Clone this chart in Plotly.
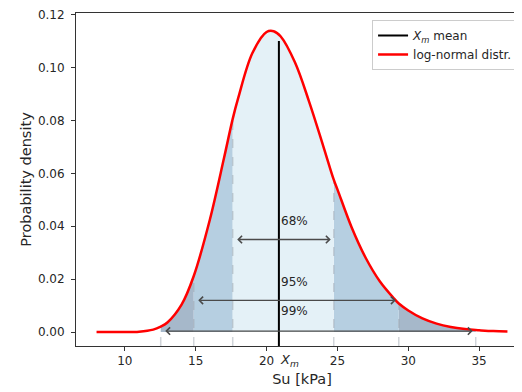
import plotly.graph_objects as go

# Curve (Su in kPa, probability density)
su = [8, 9, 10, 11, 12, 12.53, 13, 14, 14.86, 16, 17, 17.61, 18, 19, 20, 20.5, 21,
      22, 23, 24, 24.74, 25, 26, 27, 28, 29, 29.33, 30, 31, 32, 33, 34, 34.76, 35, 36, 37]
density = [0.0, 0.0000012, 0.0000193, 0.00017, 0.00095, 0.00208, 0.00364, 0.01038, 0.0212,
           0.04256, 0.06587, 0.0806, 0.0885, 0.10546, 0.11343, 0.11372, 0.11171,
           0.10197, 0.08714, 0.07032, 0.0576, 0.05396, 0.03964, 0.02801, 0.01913, 0.01268,
           0.0108, 0.00819, 0.00516, 0.00319, 0.00193, 0.00115, 0.00076, 0.00068, 0.00039, 0.00023]

# Mean marker
x_mean = 20.87
mean_top = 0.11

# Confidence bands (lower, upper), labels, arrow heights, label heights
band_lo = [12.53, 14.86, 17.61]
band_hi = [34.76, 29.33, 24.74]
band_labels = ["99%", "95%", "68%"]
arrow_y = [0.0004, 0.012, 0.035]
label_y = [0.008, 0.019, 0.042]

x_range = [6.55, 38.45]
y_range = [-0.00525, 0.1206]

col_outer = "#a6b8ca"
col_mid = "#b6cfe1"
col_inner = "#e4f1f7"

fig = go.Figure()

def seg(lo, hi):
    xs = [x for x in su if lo <= x <= hi]
    ys = [d for x, d in zip(su, density) if lo <= x <= hi]
    return xs, ys

# fills: outer (99 but not 95), mid (95 but not 68), inner (68)
segments = [
    (band_lo[0], band_lo[1], col_outer),
    (band_hi[1], band_hi[0], col_outer),
    (band_lo[1], band_lo[2], col_mid),
    (band_hi[2], band_hi[1], col_mid),
    (band_lo[2], band_hi[2], col_inner),
]
for lo, hi, c in segments:
    xs, ys = seg(lo, hi)
    fig.add_trace(go.Scatter(x=xs, y=ys, mode="lines", line=dict(width=0, shape="spline", color=c),
                             fill="tozeroy", fillcolor=c, showlegend=False, hoverinfo="skip"))

# dashed boundaries
for b in band_lo + band_hi:
    d = density[su.index(b)]
    fig.add_trace(go.Scatter(x=[b, b], y=[y_range[0], d], mode="lines",
                             line=dict(color="rgba(150,160,170,0.45)", width=1.5, dash="dash"),
                             showlegend=False, hoverinfo="skip"))

# mean line
fig.add_trace(go.Scatter(x=[x_mean, x_mean], y=[y_range[0], mean_top], mode="lines",
                         line=dict(color="black", width=2),
                         name="<i>X</i><sub><i>m</i></sub> mean"))
# curve
fig.add_trace(go.Scatter(x=su, y=density, mode="lines",
                         line=dict(color="#ff0000", width=2.5, shape="spline"),
                         name="log-normal distr."))

for lo, hi, lab, ay, ly in zip(band_lo, band_hi, band_labels, arrow_y, label_y):
    fig.add_annotation(x=hi, y=ay, ax=lo, ay=ay, xref="x", yref="y", axref="x", ayref="y",
                       text="", showarrow=True, arrowhead=4, arrowside="end+start",
                       arrowsize=1.1, arrowwidth=1.3, arrowcolor="#4a4a4a",
                       standoff=3, startstandoff=3)
    fig.add_annotation(x=x_mean, y=ly, xref="x", yref="y", text=lab, showarrow=False,
                       xanchor="left", yanchor="middle",
                       font=dict(size=12, color="#262626"))

fig.add_annotation(x=21.6, y=-0.0446, xref="x", yref="paper",
                   text="<i>X</i><sub><i>m</i></sub>", showarrow=False,
                   xanchor="center", yanchor="middle", font=dict(size=13, color="#262626"))

# page body has an 8px margin, so the figure is sized/offset to compensate;
# the right edge of the axes runs slightly past the window, as in the reference
fig.update_layout(
    width=520, height=384,
    margin=dict(l=68, r=0, t=2, b=46),
    paper_bgcolor="white", plot_bgcolor="white",
    font=dict(family="DejaVu Sans", size=12, color="#262626"),
    legend=dict(x=0.655, y=0.979, xanchor="left", yanchor="top",
                bgcolor="rgba(255,255,255,0.9)", bordercolor="#cccccc", borderwidth=1,
                font=dict(size=12)),
)
fig.update_xaxes(range=x_range, tickvals=[10, 15, 20, 25, 30, 35], ticks="outside", ticklen=4,
                 tickcolor="#333", showline=True, linecolor="#333", linewidth=1, mirror=True,
                 showgrid=False, zeroline=False,
                 title=dict(text="Su [kPa]", font=dict(size=14.5), standoff=6))
fig.update_yaxes(range=y_range, tickvals=[0, 0.02, 0.04, 0.06, 0.08, 0.10, 0.12], tickformat=".2f",
                 ticks="outside", ticklen=4, tickcolor="#333", showline=True, linecolor="#333",
                 linewidth=1, mirror=False, showgrid=False, zeroline=False, ticklabelstandoff=4,
                 ticklabeloverflow="allow",
                 title=dict(text="Probability density", font=dict(size=14.5), standoff=2))

fig.write_html("out.html")
